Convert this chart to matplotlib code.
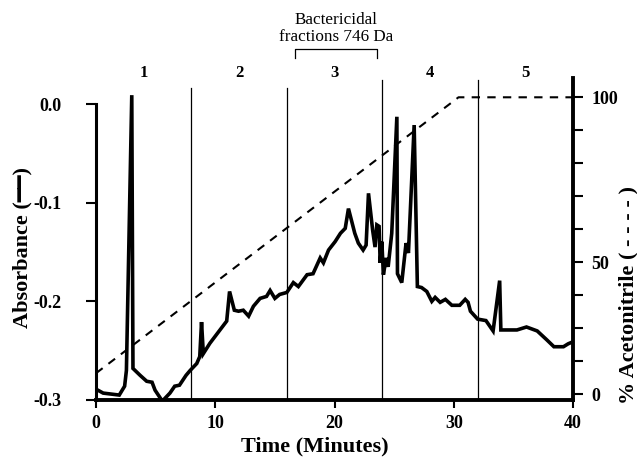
import matplotlib
matplotlib.use("Agg")
import matplotlib.pyplot as plt
import numpy as np

# ---- data ----
time_abs = [0.0, 0.6, 1.95, 2.4, 2.55, 3.0, 3.1, 3.7, 4.25, 4.7, 4.95, 5.5, 5.65, 6.2, 6.6,
            7.0, 7.55, 7.9, 8.45, 8.7, 8.85, 9.0, 9.55, 10.96, 11.2, 11.6, 11.95, 12.35,
            12.8, 13.2, 13.76, 14.3, 14.6, 15.0, 15.4, 16.0, 16.55, 16.97, 17.7, 18.2,
            18.8, 19.07, 19.5, 20.05, 20.5, 20.9, 21.17, 21.7, 22.0, 22.4, 22.65, 22.85,
            23.2, 23.4, 23.55, 23.74, 23.83, 23.97, 24.1, 24.33, 24.5, 24.8, 25.23, 25.28,
            25.64, 26.0, 26.2, 26.68, 26.95, 27.3, 27.74, 28.16, 28.44, 28.86, 29.3, 29.84,
            30.5, 30.96, 31.2, 31.4, 32.0, 32.7, 33.3, 33.85, 33.95, 35.3, 36.1, 37.0,
            37.8, 38.4, 39.2, 39.6, 40.0]
absorbance = [-0.289, -0.293, -0.295, -0.286, -0.27, 0.009, -0.268, -0.275, -0.281, -0.282,
              -0.29, -0.300, -0.300, -0.293, -0.286, -0.285, -0.275, -0.270, -0.263, -0.256,
              -0.221, -0.253, -0.2425, -0.220, -0.190, -0.209, -0.210, -0.209, -0.215,
              -0.205, -0.197, -0.195, -0.189, -0.197, -0.193, -0.191, -0.181, -0.185,
              -0.173, -0.172, -0.156, -0.161, -0.148, -0.1395, -0.131, -0.126, -0.106,
              -0.131, -0.141, -0.148, -0.143, -0.0905, -0.128, -0.145, -0.1225, -0.124,
              -0.161, -0.1395, -0.173, -0.156, -0.165, -0.131, -0.0129, -0.172, -0.181,
              -0.141, -0.151, -0.0213, -0.185, -0.186, -0.190, -0.200, -0.196, -0.201,
              -0.198, -0.204, -0.204, -0.198, -0.201, -0.210, -0.218, -0.2195, -0.230,
              -0.179, -0.229, -0.229, -0.226, -0.230, -0.239, -0.246, -0.246, -0.243, -0.241]

time_acn = [0.0, 30.4, 40.0]
acetonitrile = [7.0, 100.0, 100.0]

fraction_bounds = [8, 16, 24, 32]
fraction_labels = ["1", "2", "3", "4", "5"]
fraction_centers = [4, 12, 20, 28, 36]

x_ticks = [0, 10, 20, 30, 40]
x_ticklabels = ["0", "10", "20", "30", "40"]
left_ticks = [-0.3, -0.2, -0.1, 0.0]
left_ticklabels = ["-0.3", "-0.2", "-0.1", "0.0"]
right_tick_labels = {0: "0", 4: "50", 9: "100"}

serif = ["Liberation Serif", "DejaVu Serif"]

W, H = 637, 459
fig = plt.figure(figsize=(W / 100, H / 100), dpi=100)
ax_l, ax_r, ax_b, ax_t = 96, 573, 400, 78
ax = fig.add_axes([ax_l / W, (H - ax_b) / H, (ax_r - ax_l) / W, (ax_b - ax_t) / H])

ax.set_xlim(0, 40)
ax.set_ylim(-0.3, 0.0264)

ax.plot(time_abs, absorbance, color="black", lw=2.6, solid_joinstyle="miter", zorder=3)

for i, xb in enumerate(fraction_bounds):
    top = 0.0162 if i < 2 else 0.0243
    ax.plot([xb, xb], [-0.3, top], color="black", lw=0.9, clip_on=False, zorder=2)

for xc, lab in zip(fraction_centers, fraction_labels):
    ax.text(xc, 0.0314, lab, ha="center", va="center", fontsize=12,
            fontweight="bold", family=serif)

# bracket for bactericidal fractions
bx0, bx1 = 16.7, 23.6
ax.plot([bx0, bx0, bx1, bx1], [0.0466, 0.0557, 0.0557, 0.0466], color="black",
        lw=0.9, clip_on=False)
ax.text((bx0 + bx1) / 2, 0.0595, "Bactericidal\nfractions 746 Da", ha="center",
        va="bottom", fontsize=12.3, family=serif, linespacing=1.15)

for s in ["top", "right"]:
    ax.spines[s].set_visible(False)
ax.spines["left"].set_bounds(-0.3, 0.0)
ax.spines["left"].set_linewidth(2.2)
ax.spines["bottom"].set_linewidth(2.8)

ax.set_xticks(x_ticks)
ax.set_xticklabels(x_ticklabels, fontsize=13, fontweight="bold", family=serif)
ax.set_yticks(left_ticks)
ax.set_yticklabels(left_ticklabels, fontsize=13, fontweight="bold", family=serif)
ax.tick_params(axis="x", direction="out", length=6, width=1.5, pad=5)
ax.tick_params(axis="y", direction="out", length=7, width=1.5, pad=18)

# right axis
ax2 = ax.twinx()
ax2.set_ylim(-2.02, 106.5)
ax2.plot(time_acn, acetonitrile, color="black", lw=1.5, dashes=(4, 3.5), zorder=2)
for s in ["top", "left", "bottom"]:
    ax2.spines[s].set_visible(False)
ax2.spines["right"].set_linewidth(2.8)
rt = [100 * k / 9 for k in range(10)]
ax2.set_yticks(rt)
ax2.set_yticklabels([right_tick_labels.get(k, "") for k in range(10)], fontsize=13,
                    fontweight="bold", family=serif)
ax2.tick_params(axis="y", direction="out", length=7, width=1.5, pad=6)

fig.text(314.5 / W, (H - 446) / H, "Time (Minutes)", ha="center", va="center",
         fontsize=16, fontweight="bold", family=serif)
fig.text(22.5 / W, (H - 248) / H, "Absorbance (\u2501\u2501)", ha="center", va="center",
         rotation=90, fontsize=16, fontweight="bold", family=serif + ["DejaVu Sans"])
fig.text(628 / W, (H - 295) / H, "% Acetonitrile ( - - - - )", ha="center", va="center",
         rotation=90, fontsize=16, fontweight="bold", family=serif)

fig.savefig("out.png", dpi=100)
